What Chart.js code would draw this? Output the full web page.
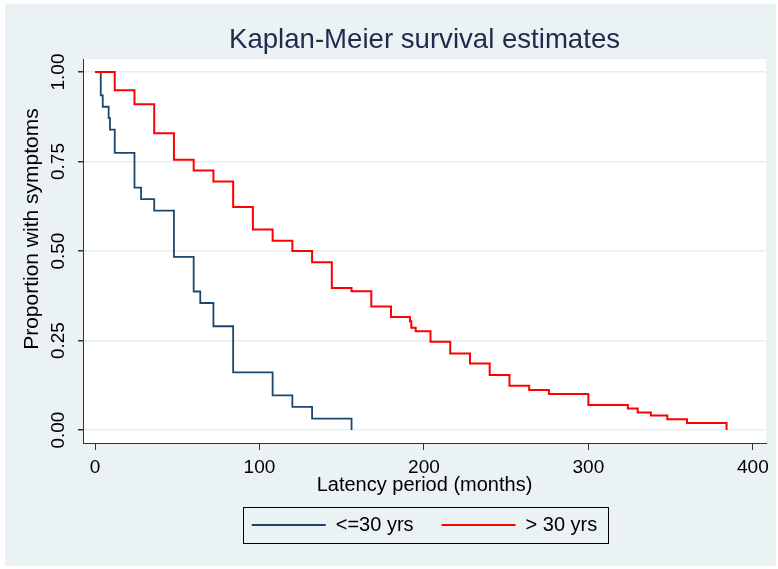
<!DOCTYPE html>
<html>
<head>
<meta charset="utf-8">
<title>Kaplan-Meier survival estimates</title>
<script src="https://cdn.jsdelivr.net/npm/chart.js@4"></script>
<style>
  body { margin: 0; background: #fff; }
  canvas { display: block; }
</style>
</head>
<body>
<canvas id="km" width="778" height="569"></canvas>
<script>
// survival curve, age at exposure <= 30 yrs
const youngTimes = [0, 3.5, 4.7, 8.3, 9.1, 12, 24, 28, 36, 48, 60, 64, 72, 84, 108, 120, 132, 156];
const youngSurv = [1, 0.935, 0.903, 0.871, 0.839, 0.774, 0.677, 0.645, 0.613, 0.484, 0.387, 0.355, 0.290, 0.161, 0.097, 0.065, 0.032, 0];

// survival curve, age at exposure > 30 yrs
const oldTimes = [0, 12, 24, 36, 48, 60, 72, 84, 96, 108, 120, 132, 144, 156, 168, 180, 191.5, 192.3, 195, 204, 216, 228, 240, 252, 264, 276, 300, 324, 330, 338, 348, 360, 384];
const oldSurv = [1, 0.949, 0.910, 0.829, 0.755, 0.725, 0.694, 0.623, 0.560, 0.529, 0.500, 0.469, 0.397, 0.388, 0.345, 0.316, 0.304, 0.286, 0.276, 0.247, 0.214, 0.186, 0.154, 0.124, 0.112, 0.101, 0.070, 0.060, 0.049, 0.041, 0.030, 0.020, 0];

const groupLabels = ['<=30 yrs', '> 30 yrs'];
const xTicks = [0, 100, 200, 300, 400];
const yTicks = [0, 0.25, 0.5, 0.75, 1];

const FONT = '"Liberation Sans", Arial, sans-serif';

const toPoints = (xs, ys) => xs.map((t, i) => ({ x: t, y: ys[i] }));

// stata-like backgrounds, rotated y labels and the legend frame
const stataLook = {
  id: 'stataLook',
  beforeDraw(chart) {
    const { ctx, chartArea: a } = chart;
    ctx.save();
    ctx.fillStyle = '#ffffff';
    ctx.fillRect(0, 0, chart.width, chart.height);
    ctx.fillStyle = '#EAF2F3';
    ctx.fillRect(5, 4, chart.width - 7, chart.height - 7);
    ctx.fillStyle = '#ffffff';
    ctx.fillRect(a.left, a.top, a.right - a.left, a.bottom - a.top);
    ctx.restore();
  },
  afterDraw(chart) {
    const { ctx, chartArea: a } = chart;
    const yScale = chart.scales.y;
    ctx.save();
    ctx.fillStyle = '#000';
    ctx.textAlign = 'center';
    ctx.textBaseline = 'middle';
    ctx.font = '19px ' + FONT;
    yTicks.forEach(v => {
      ctx.save();
      ctx.translate(a.left - 24, yScale.getPixelForValue(v));
      ctx.rotate(-Math.PI / 2);
      ctx.fillText(v.toFixed(2), 0, 0);
      ctx.restore();
    });
    ctx.font = '21px ' + FONT;
    ctx.save();
    ctx.translate(a.left - 51, (a.top + a.bottom) / 2 - 22);
    ctx.rotate(-Math.PI / 2);
    ctx.fillText('Proportion with symptoms', 0, 0);
    ctx.restore();

    // frame round the legend
    const boxes = chart.legend.legendHitBoxes;
    if (boxes && boxes.length) {
      const left = Math.min(...boxes.map(b => b.left)) - 9;
      const right = Math.max(...boxes.map(b => b.left + b.width)) + 10;
      const mid = boxes[0].top + boxes[0].height / 2;
      ctx.strokeStyle = '#000';
      ctx.lineWidth = 1;
      ctx.strokeRect(Math.round(left) + 0.5, Math.round(mid - 18) + 0.5, Math.round(right - left), 36);
    }
    ctx.restore();
  }
};

new Chart(document.getElementById('km'), {
  type: 'line',
  data: {
    datasets: [
      {
        label: groupLabels[0],
        data: toPoints(youngTimes, youngSurv),
        borderColor: '#1A476F',
        borderWidth: 1.8,
        stepped: true,
        pointRadius: 0,
        order: 1
      },
      {
        label: groupLabels[1],
        data: toPoints(oldTimes, oldSurv),
        borderColor: '#FF0000',
        borderWidth: 2,
        stepped: true,
        pointRadius: 0,
        order: 0
      }
    ]
  },
  options: {
    responsive: false,
    animation: false,
    layout: { padding: { left: 0, right: 12, top: 0, bottom: 24 } },
    plugins: {
      tooltip: { enabled: false },
      title: {
        display: true,
        text: 'Kaplan-Meier survival estimates',
        color: '#1E2B4C',
        fullSize: false,
        font: { size: 27.6, family: FONT, weight: 'normal' },
        padding: { top: 24, bottom: 2 }
      },
      legend: {
        position: 'bottom',
        fullSize: false,
        labels: {
          boxWidth: 74,
          boxHeight: 2,
          padding: 28,
          color: '#000',
          font: { size: 20, family: FONT },
          generateLabels: chart => chart.data.datasets.map((d, i) => ({
            text: d.label,
            fillStyle: d.borderColor,
            strokeStyle: d.borderColor,
            lineWidth: 0,
            hidden: false,
            datasetIndex: i
          }))
        }
      }
    },
    scales: {
      x: {
        type: 'linear',
        min: -7.3,
        max: 408,
        afterBuildTicks: s => { s.ticks = xTicks.map(v => ({ value: v })); },
        afterFit: s => { s.height = 44; },
        grid: { drawOnChartArea: false, tickLength: 7, tickColor: '#333' },
        border: { color: '#333', width: 1 },
        ticks: {
          color: '#000',
          font: { size: 19, family: FONT },
          padding: 6,
          maxRotation: 0,
          autoSkip: false
        },
        title: {
          display: true,
          text: 'Latency period (months)',
          color: '#000',
          font: { size: 20, family: FONT },
          padding: { top: 0, bottom: -10 }
        }
      },
      y: {
        type: 'linear',
        min: -0.036,
        max: 1.036,
        afterBuildTicks: s => { s.ticks = yTicks.map(v => ({ value: v })); },
        afterFit: s => { s.width = 83; },
        grid: { color: '#E4EDEF', lineWidth: 1.5, tickLength: 5, tickColor: '#333' },
        border: { color: '#333', width: 1 },
        ticks: { display: false }
      }
    }
  },
  plugins: [stataLook]
});
</script>
</body>
</html>
